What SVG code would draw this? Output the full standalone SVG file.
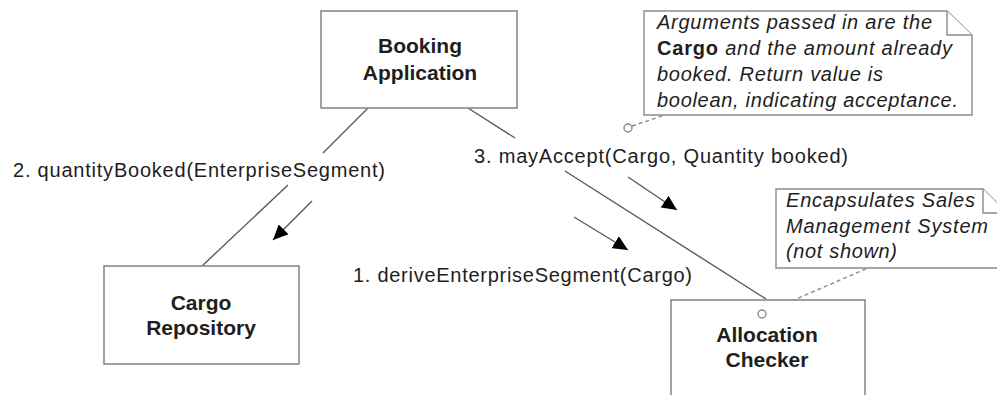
<svg xmlns="http://www.w3.org/2000/svg" width="997" height="395" viewBox="0 0 997 395">
<style>
.box{fill:#fff;stroke:#8a8a8a;stroke-width:1.6}
.note{fill:#fff;stroke:#8a8a8a;stroke-width:1.4}
.ln{stroke:#5a5a5a;stroke-width:1.4;fill:none}
.dash{stroke:#8a8a8a;stroke-width:1.4;stroke-dasharray:4 3;fill:none}
.anchor{fill:#fff;stroke:#8a8a8a;stroke-width:1.4}
.bold{font-family:"Liberation Sans",Arial,sans-serif;font-weight:bold;font-size:21px;fill:#1e1e1e;text-anchor:middle}
.lbl{font-family:"Liberation Sans",Arial,sans-serif;font-size:20px;fill:#1e1e1e}
.it{font-family:"Liberation Sans",Arial,sans-serif;font-style:italic;font-size:20px;fill:#1e1e1e}
</style>
<defs>
<marker id="ah" markerUnits="userSpaceOnUse" markerWidth="16" markerHeight="14" refX="15" refY="7" orient="auto">
<path d="M0,0 L15,7 L0,14 Z" fill="#000"/>
</marker>
</defs>
<rect width="997" height="395" fill="#fff"/>
<g id="connectors">
<path class="ln" d="M368,108 L323,153 M288,185 L202,266"/>
<path class="ln" d="M468,108 L515,138 M565,171 L766,299"/>
<line class="ln" x1="312" y1="201" x2="273" y2="240" marker-end="url(#ah)"/>
<line class="ln" x1="628" y1="177" x2="677" y2="210" marker-end="url(#ah)"/>
<line class="ln" x1="574" y1="217" x2="628" y2="250" marker-end="url(#ah)"/>
<line class="dash" x1="632" y1="126" x2="665" y2="115"/>
<line class="dash" x1="766" y1="312" x2="868" y2="268"/>
<text class="lbl" x="13" y="177" textLength="372" lengthAdjust="spacing">2. quantityBooked(EnterpriseSegment)</text>
<text class="lbl" x="474" y="163" textLength="374" lengthAdjust="spacing">3. mayAccept(Cargo, Quantity booked)</text>
<text class="lbl" x="353" y="282" textLength="339" lengthAdjust="spacing">1. deriveEnterpriseSegment(Cargo)</text>
</g>
<g id="booking-application">
<rect class="box" x="321" y="11" width="196" height="97"/>
<text class="bold" x="420" y="53">Booking</text>
<text class="bold" x="420" y="80">Application</text>
</g>
<g id="cargo-repository">
<rect class="box" x="104" y="266" width="195" height="98"/>
<text class="bold" x="201" y="310">Cargo</text>
<text class="bold" x="201" y="335">Repository</text>
</g>
<g id="allocation-checker">
<rect class="box" x="671" y="300" width="194" height="120"/>
<text class="bold" x="767" y="342">Allocation</text>
<text class="bold" x="767" y="367">Checker</text>
<circle class="anchor" cx="762" cy="314" r="4"/>
</g>
<g id="note-arguments">
<path class="note" d="M644,11 H947 L972,35 V115 H644 Z"/>
<path class="note" d="M947,11 V35 H972" fill="none"/>
<text class="it" x="657" y="29" textLength="275" lengthAdjust="spacing">Arguments passed in are the</text>
<text class="it" x="657" y="55" textLength="295" lengthAdjust="spacing"><tspan font-weight="bold" font-style="normal">Cargo</tspan> and the amount already</text>
<text class="it" x="657" y="81" textLength="226" lengthAdjust="spacing">booked. Return value is</text>
<text class="it" x="657" y="107" textLength="301" lengthAdjust="spacing">boolean, indicating acceptance.</text>
<circle class="anchor" cx="628" cy="128" r="4"/>
</g>
<g id="note-encapsulates">
<path class="note" d="M776,189 H983 L1007,213 V268 H776 Z"/>
<path class="note" d="M983,189 V213 H1007" fill="none"/>
<text class="it" x="786" y="207" textLength="189" lengthAdjust="spacing">Encapsulates Sales</text>
<text class="it" x="786" y="233" textLength="202" lengthAdjust="spacing">Management System</text>
<text class="it" x="786" y="258" textLength="111" lengthAdjust="spacing">(not shown)</text>
</g>
</svg>
